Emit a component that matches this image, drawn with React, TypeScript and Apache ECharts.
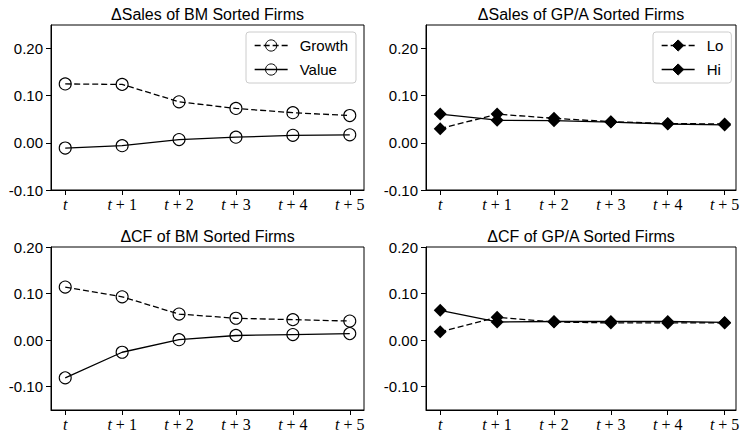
import React, { useEffect, useRef } from 'react';
import * as echarts from 'echarts';

const steps = [0, 1, 2, 3, 4, 5];
const yTickValues = [-0.1, 0, 0.1, 0.2];

const titles = [
  'ΔSales of BM Sorted Firms',
  'ΔSales of GP/A Sorted Firms',
  'ΔCF of BM Sorted Firms',
  'ΔCF of GP/A Sorted Firms',
];

const salesBMGrowth = [0.125, 0.124, 0.087, 0.073, 0.064, 0.058];
const salesBMValue = [-0.011, -0.006, 0.007, 0.012, 0.016, 0.017];
const salesGPLo = [0.030, 0.061, 0.052, 0.045, 0.041, 0.040];
const salesGPHi = [0.061, 0.048, 0.047, 0.044, 0.040, 0.038];
const cfBMGrowth = [0.114, 0.093, 0.056, 0.047, 0.044, 0.041];
const cfBMValue = [-0.081, -0.026, 0.001, 0.010, 0.012, 0.014];
const cfGPLo = [0.018, 0.049, 0.039, 0.037, 0.037, 0.037];
const cfGPHi = [0.064, 0.039, 0.040, 0.040, 0.040, 0.038];

const SANS = 'Liberation Sans, Arial, Helvetica, sans-serif';
const SERIF = 'Liberation Serif, Times New Roman, serif';

const grids = [
  { left: 51, top: 25, width: 313, height: 165 },
  { left: 426, top: 25, width: 310, height: 165 },
  { left: 51, top: 247, width: 313, height: 164 },
  { left: 426, top: 247, width: 310, height: 164 },
];
const yRanges = [
  [-0.1, 0.25],
  [-0.1, 0.25],
  [-0.15, 0.2],
  [-0.15, 0.2],
];
const xMax = [5.25, 5.2, 5.25, 5.2];

function App() {
  const ref = useRef<HTMLDivElement>(null);
  useEffect(() => {
    if (!ref.current) return;
    const chart = echarts.init(ref.current, null, { renderer: 'svg' });

    const xAxes = grids.map((_, i) => ({
      type: 'value',
      gridIndex: i,
      min: -0.25,
      max: xMax[i],
      splitLine: { show: false },
      axisLine: { show: true, onZero: false, lineStyle: { color: '#000', width: 1 } },
      axisTick: { show: true, length: 5, customValues: steps, lineStyle: { color: '#000' } },
      axisLabel: {
        customValues: steps,
        margin: 6,
        formatter: (v: number) => (v === 0 ? '{i|t}' : `{i|t}{r| + ${v}}`),
        rich: {
          i: { fontFamily: SERIF, fontStyle: 'italic', fontSize: 16, color: '#000' },
          r: { fontFamily: SERIF, fontSize: 16, color: '#000' },
        },
      },
    }));

    const yAxes = grids.map((_, i) => ({
      type: 'value',
      gridIndex: i,
      min: yRanges[i][0],
      max: yRanges[i][1],
      splitLine: { show: false },
      axisLine: { show: true, onZero: false, lineStyle: { color: '#000', width: 1 } },
      axisTick: { show: true, length: 5, customValues: yTickValues, lineStyle: { color: '#000' } },
      axisLabel: {
        customValues: yTickValues,
        margin: 8,
        fontFamily: SANS,
        fontSize: 15,
        color: '#000',
        formatter: (v: number) => v.toFixed(2),
      },
    }));

    const toPts = (arr: number[]) => steps.map((s, k) => [s, arr[k]]);

    const circleSeries = (name: string, arr: number[], idx: number, dashed: boolean) => ({
      type: 'line',
      name,
      xAxisIndex: idx,
      yAxisIndex: idx,
      data: toPts(arr),
      symbol: 'circle',
      symbolSize: 12,
      showAllSymbol: true,
      itemStyle: { color: 'rgba(255,255,255,0)', borderColor: '#000', borderWidth: 1.1 },
      lineStyle: { color: '#000', width: 1.3, type: dashed ? [6, 3] : 'solid' },
      emphasis: { disabled: true },
    });

    const diamondSeries = (name: string, arr: number[], idx: number, dashed: boolean) => ({
      type: 'line',
      name,
      xAxisIndex: idx,
      yAxisIndex: idx,
      data: toPts(arr),
      symbol: 'diamond',
      symbolSize: 13,
      showAllSymbol: true,
      itemStyle: { color: '#000', borderColor: '#000', borderWidth: 0 },
      lineStyle: { color: '#000', width: 1.3, type: dashed ? [6, 3] : 'solid' },
      emphasis: { disabled: true },
    });

    const series = [
      circleSeries('Growth', salesBMGrowth, 0, true),
      circleSeries('Value', salesBMValue, 0, false),
      diamondSeries('Lo', salesGPLo, 1, true),
      diamondSeries('Hi', salesGPHi, 1, false),
      circleSeries('Growth', cfBMGrowth, 2, true),
      circleSeries('Value', cfBMValue, 2, false),
      diamondSeries('Lo', cfGPLo, 3, true),
      diamondSeries('Hi', cfGPHi, 3, false),
    ];

    const legendBase = {
      orient: 'vertical',
      itemWidth: 33,
      itemHeight: 14,
      itemGap: 9,
      padding: [6, 8, 6, 8],
      borderColor: '#cccccc',
      borderWidth: 1,
      borderRadius: 3,
      backgroundColor: '#fff',
      selectedMode: false,
      itemStyle: { borderWidth: 1 },
      lineStyle: { width: 1.3 },
      textStyle: { fontFamily: SANS, fontSize: 15, color: '#000', padding: [0, 0, 0, 7] },
    };

    const legends = [
      { ...legendBase, left: 246, top: 32, data: ['Growth', 'Value'] },
      { ...legendBase, left: 653, top: 32, data: ['Lo', 'Hi'] },
    ];

    const graphic = titles.map((t, i) => ({
      type: 'text',
      x: grids[i].left + grids[i].width / 2,
      y: grids[i].top - 11,
      style: {
        text: t,
        fontFamily: SANS,
        fontSize: 16,
        fill: '#000',
        textAlign: 'center',
        textVerticalAlign: 'middle',
      },
    }));

    chart.setOption({
      animation: false,
      backgroundColor: '#fff',
      grid: grids.map((g) => ({ ...g, show: true, borderColor: '#000', borderWidth: 1, backgroundColor: 'transparent' })),
      xAxis: xAxes,
      yAxis: yAxes,
      legend: legends,
      series,
      graphic,
    });
    return () => chart.dispose();
  }, []);
  return (
    <div
      ref={ref}
      style={{ position: 'absolute', left: 0, top: 0, width: 743, height: 432 }}
    />
  );
}

export default App;
